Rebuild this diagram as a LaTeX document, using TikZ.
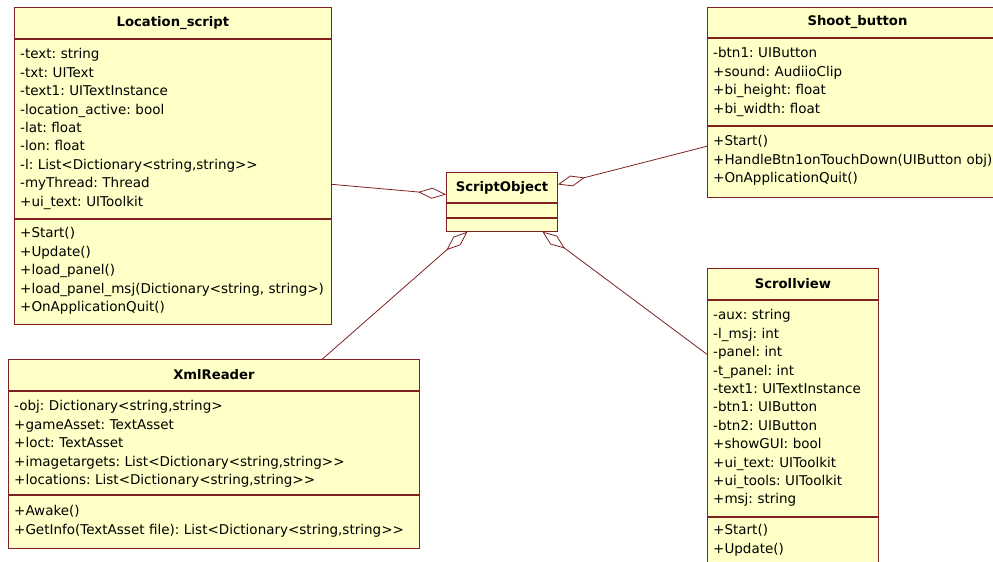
\documentclass[tikz,border=0pt]{standalone}
\usepackage{fontspec}
\setmainfont{DejaVu Sans}[Ligatures=TeXOff]
\usetikzlibrary{positioning,arrows.meta}
\definecolor{umlfill}{RGB}{255,255,200}
\definecolor{umlline}{RGB}{128,32,32}
\frenchspacing

\begin{document}
\begin{tikzpicture}[x=1pt, y=1pt,
  part/.style={draw=umlline, fill=umlfill, line width=0.9pt, inner sep=0pt, anchor=north west},
  head/.style={part, font=\fontsize{13.2}{15}\selectfont\bfseries},
  members/.style={anchor=base west, inner sep=0pt, text width=420pt, align=left, font=\fontsize{13.5}{18.4}\selectfont},
  agg/.style={draw=umlline, line width=0.8pt, -{Diamond[open, length=28pt, width=11pt]}}]

\useasboundingbox (0,0) rectangle (993,-562);
\clip (0,0) rectangle (993,-562);

% Location_script
\node[head, minimum width=317pt, minimum height=31pt] (loc) at (14,-7) {Location\_script};
\node[part, below=0pt of loc, minimum width=317pt, minimum height=179pt] (locattr) {};
\node[part, below=0pt of locattr, minimum width=317pt, minimum height=105pt] (locops) {};
\node[members] (locattrtxt) at ([xshift=6pt, yshift=-20pt]locattr.north west)
  {-text: string\\-txt: UIText\\-text1: UITextInstance\\-location\_active: bool\\-lat: float\\-lon: float\\-l: List<Dictionary<string,string>>\\-myThread: Thread\\+ui\_text: UIToolkit};
\node[members] (locopstxt) at ([xshift=6pt, yshift=-19pt]locops.north west)
  {+Start()\\+Update()\\+load\_panel()\\+load\_panel\_msj(Dictionary<string, string>)\\+OnApplicationQuit()};

% Shoot_button
\node[head, minimum width=300pt, minimum height=30pt] (shoot) at (707,-7) {Shoot\_button};
\node[part, below=0pt of shoot, minimum width=300pt, minimum height=87pt] (shootattr) {};
\node[part, below=0pt of shootattr, minimum width=300pt, minimum height=71pt] (shootops) {};
\node[members] (shootattrtxt) at ([xshift=6pt, yshift=-20pt]shootattr.north west)
  {-btn1: UIButton\\+sound: AudiioClip\\+bi\_height: float\\+bi\_width: float};
\node[members] (shootopstxt) at ([xshift=6pt, yshift=-20pt]shootops.north west)
  {+Start()\\+HandleBtn1onTouchDown(UIButton obj)\\+OnApplicationQuit()};

% ScriptObject
\node[head, minimum width=111pt, minimum height=30pt] (scr) at (446,-172) {ScriptObject};
\node[part, below=0pt of scr, minimum width=111pt, minimum height=14pt] (scrattr) {};
\node[part, below=0pt of scrattr, minimum width=111pt, minimum height=13pt] (scrops) {};

% XmlReader
\node[head, minimum width=411pt, minimum height=31pt] (xml) at (8,-359) {XmlReader};
\node[part, below=0pt of xml, minimum width=411pt, minimum height=103pt] (xmlattr) {};
\node[part, below=0pt of xmlattr, minimum width=411pt, minimum height=53pt] (xmlops) {};
\node[members] (xmlattrtxt) at ([xshift=6pt, yshift=-20pt]xmlattr.north west)
  {-obj: Dictionary<string,string>\\+gameAsset: TextAsset\\+loct: TextAsset\\+imagetargets: List<Dictionary<string,string>>\\+locations: List<Dictionary<string,string>>};
\node[members] (xmlopstxt) at ([xshift=6pt, yshift=-21pt]xmlops.north west)
  {+Awake()\\+GetInfo(TextAsset file): List<Dictionary<string,string>>};

% Scrollview
\node[head, minimum width=171pt, minimum height=31pt] (scroll) at (707,-268) {Scrollview};
\node[part, below=0pt of scroll, minimum width=171pt, minimum height=216pt] (scrollattr) {};
\node[part, below=0pt of scrollattr, minimum width=171pt, minimum height=65pt] (scrollops) {};
\node[members] (scrollattrtxt) at ([xshift=6pt, yshift=-20pt]scrollattr.north west)
  {-aux: string\\-l\_msj: int\\-panel: int\\-t\_panel: int\\-text1: UITextInstance\\-btn1: UIButton\\-btn2: UIButton\\+showGUI: bool\\+ui\_text: UIToolkit\\+ui\_tools: UIToolkit\\+msj: string};
\node[members] (scrollopstxt) at ([xshift=6pt, yshift=-18pt]scrollops.north west)
  {+Start()\\+Update()};

% aggregations
\draw[agg] ([yshift=-55.5pt]locattr.east) -- ([yshift=-7pt]scr.west);
\draw[agg] ([yshift=15.5pt]shootops.west) -- ([yshift=3pt]scr.east);
\draw[agg] ([xshift=108.5pt]xml.north) -- ([xshift=-34.5pt]scrops.south);
\draw[agg] ([yshift=54pt]scrollattr.west) -- ([xshift=40.5pt]scrops.south);
\end{tikzpicture}
\end{document}
